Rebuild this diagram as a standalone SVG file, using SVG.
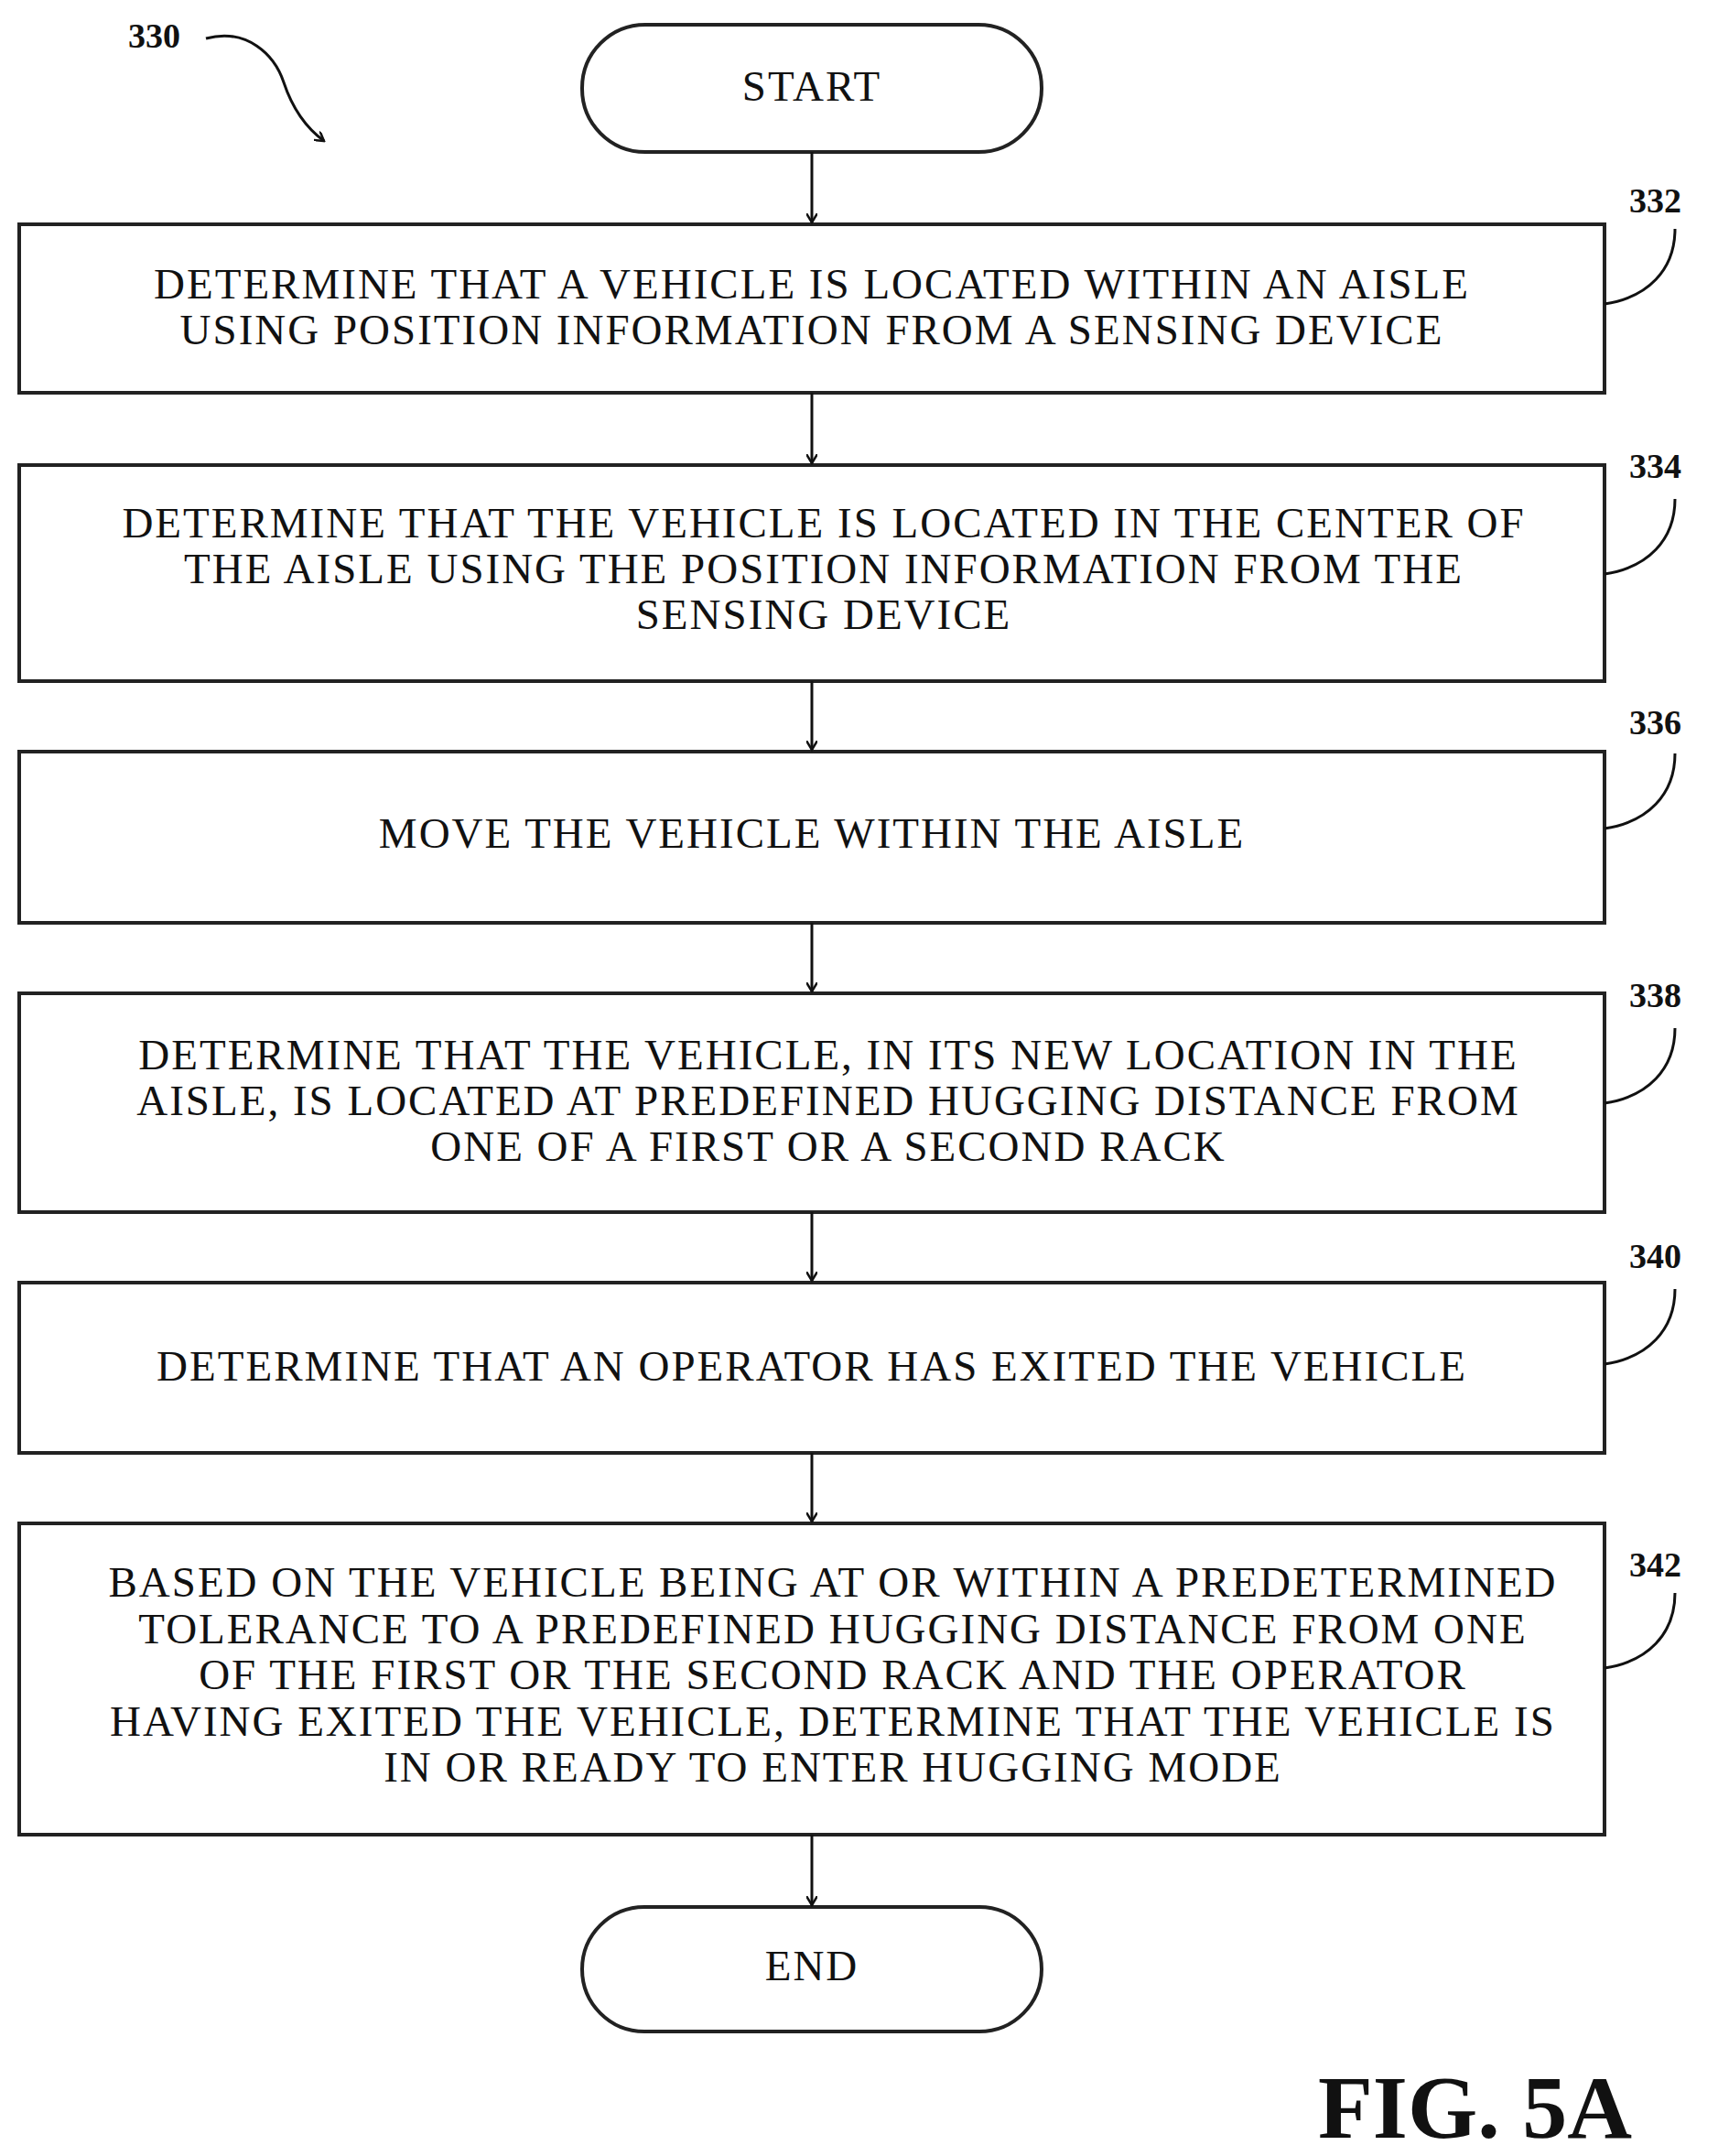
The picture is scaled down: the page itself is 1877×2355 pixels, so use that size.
<svg xmlns="http://www.w3.org/2000/svg" width="1877" height="2355" viewBox="0 0 1877 2355">
<style>
.b{fill:#fff;stroke:#222;stroke-width:4}
.t{font-family:"Liberation Serif",serif;font-size:47px;letter-spacing:2px;text-anchor:middle;dominant-baseline:central;fill:#111}
.n{font-family:"Liberation Serif",serif;font-size:38px;font-weight:bold;fill:#111}
.c{fill:none;stroke:#111;stroke-width:3}
</style>
<defs><marker id="a" markerWidth="12" markerHeight="12" refX="10" refY="6" orient="auto" markerUnits="userSpaceOnUse"><path d="M0,0 L10,6 L0,12" fill="none" stroke="#111" stroke-width="2.5"/></marker></defs>
<g id="start"><rect class="b" x="636" y="27" width="502" height="139" rx="69"/><text class="t" x="887" y="94">START</text></g>
<g id="n332"><rect class="b" x="21" y="245" width="1732" height="184"/><text class="t" x="887" y="310">DETERMINE THAT A VEHICLE IS LOCATED WITHIN AN AISLE</text><text class="t" x="887" y="360">USING POSITION INFORMATION FROM A SENSING DEVICE</text></g>
<g id="n334"><rect class="b" x="21" y="508" width="1732" height="236"/><text class="t" x="900" y="571">DETERMINE THAT THE VEHICLE IS LOCATED IN THE CENTER OF</text><text class="t" x="900" y="621">THE AISLE USING THE POSITION INFORMATION FROM THE</text><text class="t" x="900" y="671">SENSING DEVICE</text></g>
<g id="n336"><rect class="b" x="21" y="821" width="1732" height="187"/><text class="t" x="887" y="910">MOVE THE VEHICLE WITHIN THE AISLE</text></g>
<g id="n338"><rect class="b" x="21" y="1085" width="1732" height="239"/><text class="t" x="905" y="1152">DETERMINE THAT THE VEHICLE, IN ITS NEW LOCATION IN THE</text><text class="t" x="905" y="1202">AISLE, IS LOCATED AT PREDEFINED HUGGING DISTANCE FROM</text><text class="t" x="905" y="1252">ONE OF A FIRST OR A SECOND RACK</text></g>
<g id="n340"><rect class="b" x="21" y="1401" width="1732" height="186"/><text class="t" x="887" y="1492">DETERMINE THAT AN OPERATOR HAS EXITED THE VEHICLE</text></g>
<g id="n342"><rect class="b" x="21" y="1664" width="1732" height="340"/><text class="t" x="910" y="1728">BASED ON THE VEHICLE BEING AT OR WITHIN A PREDETERMINED</text><text class="t" x="910" y="1779">TOLERANCE TO A PREDEFINED HUGGING DISTANCE FROM ONE</text><text class="t" x="910" y="1829">OF THE FIRST OR THE SECOND RACK AND THE OPERATOR</text><text class="t" x="910" y="1880">HAVING EXITED THE VEHICLE, DETERMINE THAT THE VEHICLE IS</text><text class="t" x="910" y="1930">IN OR READY TO ENTER HUGGING MODE</text></g>
<g id="end"><rect class="b" x="636" y="2083" width="502" height="136" rx="68"/><text class="t" x="887" y="2147">END</text></g>
<g id="connectors">
<line class="c" x1="887" y1="166" x2="887" y2="243" marker-end="url(#a)"/>
<line class="c" x1="887" y1="429" x2="887" y2="506" marker-end="url(#a)"/>
<line class="c" x1="887" y1="744" x2="887" y2="819" marker-end="url(#a)"/>
<line class="c" x1="887" y1="1008" x2="887" y2="1083" marker-end="url(#a)"/>
<line class="c" x1="887" y1="1324" x2="887" y2="1399" marker-end="url(#a)"/>
<line class="c" x1="887" y1="1587" x2="887" y2="1662" marker-end="url(#a)"/>
<line class="c" x1="887" y1="2004" x2="887" y2="2081" marker-end="url(#a)"/>
<path class="c" d="M1753,332 C1800,325 1830,295 1830,250"/>
<path class="c" d="M1753,627 C1800,620 1830,590 1830,545"/>
<path class="c" d="M1753,905 C1800,898 1830,868 1830,823"/>
<path class="c" d="M1753,1205 C1800,1198 1830,1168 1830,1123"/>
<path class="c" d="M1753,1490 C1800,1483 1830,1453 1830,1408"/>
<path class="c" d="M1753,1822 C1800,1815 1830,1785 1830,1740"/>
<path class="c" d="M225,42 C270,30 300,60 310,90 C320,120 335,140 354,154" marker-end="url(#a)"/>
</g>
<g id="labels">
<text class="n" x="1780" y="232">332</text>
<text class="n" x="1780" y="522">334</text>
<text class="n" x="1780" y="802">336</text>
<text class="n" x="1780" y="1100">338</text>
<text class="n" x="1780" y="1385">340</text>
<text class="n" x="1780" y="1722">342</text>
<text class="n" x="140" y="52">330</text>
<text font-family="Liberation Serif,serif" font-size="98" font-weight="bold" x="1440" y="2335" fill="#111">FIG. 5A</text>
</g>
</svg>
